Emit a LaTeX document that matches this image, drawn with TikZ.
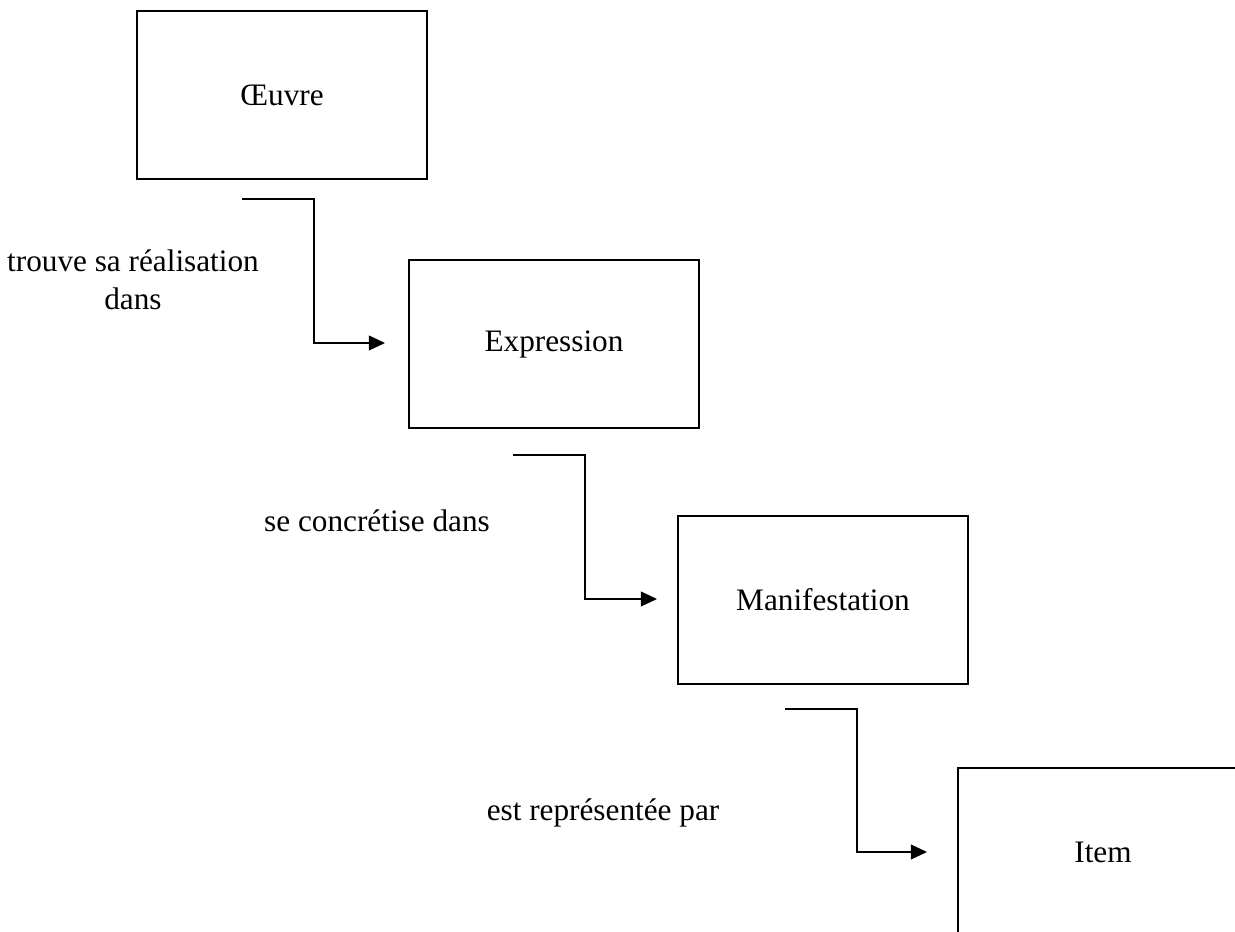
\documentclass[tikz,border=0pt]{standalone}
\usepackage{fontspec}
\setmainfont{Liberation Serif}
\usetikzlibrary{arrows.meta}
\tikzset{
  entity/.style={draw, line width=0.8pt, minimum width=116pt, minimum height=67.5pt, font=\fontsize{12.5}{15}\selectfont},
  link/.style={line width=0.5pt, -{Triangle[length=6.5pt,width=6pt]}},
  rel/.style={font=\fontsize{12.5}{15}\selectfont, align=center}
}
\begin{document}
\begin{tikzpicture}[x=0.4pt,y=-0.4pt]
\useasboundingbox (0,0) rectangle (1235,932);
\clip (0,0) rectangle (1235,932);
\node[entity] (oeuvre) at (282,95) {Œuvre};
\node[entity] (expr) at (554,344) {Expression};
\node[entity] (manif) at (823,600) {Manifestation};
\node[entity] (item) at (1103,852) {Item};
\coordinate (s1) at (242,199);
\coordinate (e1) at (385,343);
\coordinate (s2) at (513,455);
\coordinate (e2) at (657,599);
\coordinate (s3) at (785,709);
\coordinate (e3) at (927,852);
\draw[link] (s1) -- ++(72,0) |- (e1);
\draw[link] (s2) -- ++(72,0) |- (e2);
\draw[link] (s3) -- ++(72,0) |- (e3);
\node[rel] (r1) at (133,280) {trouve sa réalisation\\dans};
\node[rel] (r2) at (377,521) {se concrétise dans};
\node[rel] (r3) at (603,813) {est représentée par};
\end{tikzpicture}
\end{document}
